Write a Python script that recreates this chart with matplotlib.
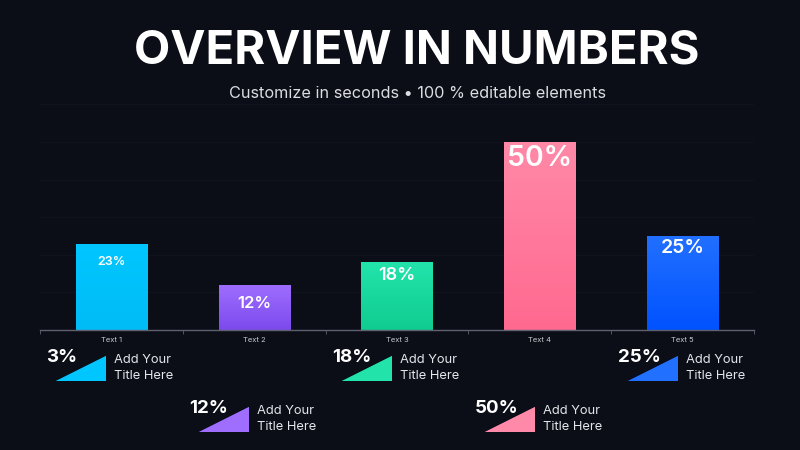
import numpy as np
import matplotlib
matplotlib.use('Agg')
import matplotlib.pyplot as plt
from matplotlib.patches import Polygon
from matplotlib.colors import LinearSegmentedColormap

plt.rcParams['font.family'] = ['Inter', 'DejaVu Sans']

# данные
categories = ['Text 1', 'Text 2', 'Text 3', 'Text 4', 'Text 5']
values = [23, 12, 18, 50, 25]
card_labels = ['3%', '12%', '18%', '50%', '25%']
card_titles = ['Add Your\nTitle Here'] * 5

# стиль
bg = '#0b0d17'
top_colors = ['#00c6ff', '#9f6eff', '#22e4aa', '#ff89a8', '#2270ff']
bottom_colors = ['#00bcf6', '#7c4aec', '#10cc90', '#ff6990', '#0052ff']
label_sizes = [9, 12, 13, 20.5, 14]
label_offset = [18, 19, 13, 17, 12]  # px ниже верха столбца

fig = plt.figure(figsize=(8, 4.5), dpi=100, facecolor=bg)
ax = fig.add_axes([40 / 800, 1 - 330 / 450, 714 / 800, 225.6 / 450])
ax.set_facecolor(bg)

x = np.arange(len(categories))
bars = ax.bar(x, values, width=0.5, color=top_colors, zorder=2)

# градиент внутри столбцов
grad = np.linspace(0, 1, 256).reshape(-1, 1)
for i, b in enumerate(bars):
    cmap = LinearSegmentedColormap.from_list('g%d' % i, [bottom_colors[i], top_colors[i]])
    im = ax.imshow(grad, extent=[b.get_x(), b.get_x() + b.get_width(), 0, b.get_height()],
                   origin='lower', aspect='auto', cmap=cmap, zorder=2.5)
    im.set_clip_path(b)
    ax.annotate(f'{values[i]}%', (b.get_x() + b.get_width() / 2, b.get_height()),
                xytext=(0, -label_offset[i] * 0.72), textcoords='offset points',
                ha='center', va='center', color='white', fontsize=label_sizes[i],
                fontweight='semibold', zorder=3)

ax.set_xlim(-0.5, len(categories) - 0.5)
ax.set_ylim(0, 60)

# оси
for s in ['top', 'right', 'left']:
    ax.spines[s].set_visible(False)
ax.spines['bottom'].set_color('#5d6170')
ax.spines['bottom'].set_linewidth(1)
ax.set_xticks(x)
ax.set_xticklabels(categories)
ax.set_xticks(np.arange(-0.5, len(categories)), minor=True)
ax.tick_params(axis='x', which='major', length=0, colors='#c8cad0', labelsize=5.5, pad=5)
ax.tick_params(axis='x', which='minor', length=3, color='#5d6170')
ax.set_yticks(range(10, 61, 10))
ax.tick_params(axis='y', length=0, labelleft=False)
ax.yaxis.grid(True, color='#10131d', lw=0.8)
ax.set_axisbelow(True)

# заголовок
fig.text(0.521, 1 - 52 / 450, 'OVERVIEW IN NUMBERS', ha='center', va='center',
         color='white', fontsize=34, fontweight='bold')
fig.text(0.522, 1 - 93 / 450, 'Customize in seconds • 100 % editable elements', ha='center',
         va='center', color='#dcdde2', fontsize=11.7)

# карточки снизу
fig.canvas.draw()
ov = fig.add_axes([0, 0, 1, 1], zorder=5)
ov.set_xlim(0, 800)
ov.set_ylim(450, 0)
ov.axis('off')
hgrad = np.linspace(0, 1, 256).reshape(1, -1)
for i in range(len(categories)):
    cx = ax.transData.transform((x[i], 0))[0]
    top = 356 + 51 * (i % 2)
    right = cx - 5
    left = right - 50
    tri = Polygon([(left, top + 25), (right, top + 25), (right, top)], closed=True,
                  facecolor=top_colors[i], edgecolor='none')
    ov.add_patch(tri)
    cmap = LinearSegmentedColormap.from_list('h%d' % i, [bottom_colors[i], top_colors[i]])
    im = ov.imshow(hgrad, extent=[left, right, top + 25, top], aspect='auto', cmap=cmap)
    im.set_clip_path(tri)
    ov.text(left - 10, top + 1.5, card_labels[i], ha='left', va='center', color='white',
            fontsize=13.5, fontweight='bold')
    for j, line in enumerate(card_titles[i].split('\n')):
        ov.text(right + 8, top + 4 + 16 * j, line, ha='left', va='center',
                color='#e4e5ea', fontsize=9.3)
ov.set_xlim(0, 800)
ov.set_ylim(450, 0)

fig.savefig('out.png', dpi=100, facecolor=bg)
